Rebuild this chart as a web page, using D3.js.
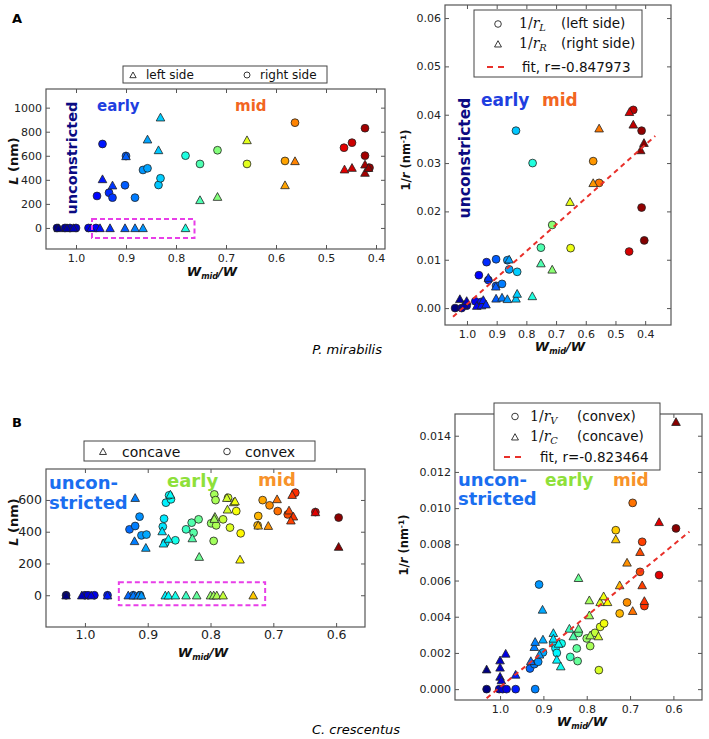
<!DOCTYPE html>
<html>
<head>
<meta charset="utf-8">
<script src="https://cdn.jsdelivr.net/npm/d3@7"></script>
<style>
body { margin: 0; background: #fff; }
text { font-family: "DejaVu Sans", sans-serif; }
</style>
</head>
<body>
<div id="plot"></div>
<script>
// ---------- data ----------
var xTicksA = [1.0, 0.9, 0.8, 0.7, 0.6, 0.5, 0.4];
var xTicksB = [1.0, 0.9, 0.8, 0.7, 0.6];
var lenTicksA = [0, 200, 400, 600, 800, 1000];
var lenTicksB = [0, 200, 400, 600];
var curvTicksA = [0, 0.01, 0.02, 0.03, 0.04, 0.05, 0.06];
var curvTicksB = [0, 0.002, 0.004, 0.006, 0.008, 0.010, 0.012, 0.014];

// P. mirabilis, constriction length L (nm) vs Wmid/W
var aLenLeft = [ // triangles, left side
  [1.035,0],[1.018,0],[1.005,0],[0.970,0],[0.952,0],[0.932,0],[0.902,0],[0.882,0],[0.866,0],[0.781,0],
  [0.947,407],[0.927,355],[0.900,598],[0.857,737],[0.835,648],[0.831,920],[0.752,233],[0.717,260],
  [0.658,731],[0.582,357],[0.562,557],[0.463,488],[0.448,501],[0.422,529],[0.422,460],[0.415,500]
];
var aLenRight = [ // circles, right side
  [1.038,0],[1.022,0],[1.012,0],[1.000,0],[0.975,0],[0.960,0],
  [0.947,698],[0.958,266],[0.934,293],[0.927,252],[0.902,355],[0.900,598],[0.882,252],[0.866,482],
  [0.857,496],[0.835,357],[0.831,413],[0.781,601],[0.752,532],[0.717,646],[0.658,532],[0.582,557],
  [0.562,875],[0.464,667],[0.448,709],[0.422,829],[0.422,601],[0.413,501]
];
// P. mirabilis, curvature 1/r (nm^-1) vs Wmid/W
var aCurvL = [ // circles
  [1.040,0.0],[1.018,0.0],[1.001,0.0005],[0.972,0.0014],[0.951,0.0013],[0.960,0.0068],[0.934,0.0095],
  [0.902,0.0101],[0.928,0.0058],[0.902,0.0046],[0.882,0.0050],[0.864,0.0099],[0.858,0.0080],[0.831,0.0075],
  [0.835,0.0367],[0.779,0.0300],[0.751,0.0125],[0.713,0.0172],[0.651,0.0124],[0.575,0.0304],[0.555,0.0259],
  [0.454,0.0117],[0.440,0.0410],[0.412,0.0367],[0.412,0.0208],[0.403,0.0140]
];
var aCurvR = [ // triangles
  [1.024,0.0019],[1.010,0.0007],[1.001,0.0015],[0.967,0.0005],[0.951,0.0006],[0.945,0.0017],[0.936,0.0008],
  [0.928,0.0063],[0.903,0.0045],[0.902,0.0020],[0.882,0.0022],[0.864,0.0019],[0.858,0.0101],[0.835,0.0020],
  [0.831,0.0030],[0.780,0.0025],[0.751,0.0093],[0.713,0.0080],[0.653,0.0220],[0.575,0.0259],[0.555,0.0372],
  [0.453,0.0406],[0.440,0.0380],[0.415,0.0327],[0.404,0.0342]
];
// C. crescentus, L (nm) vs Wmid/W
var bLenConcave = [ // triangles
  [1.030,0],[1.005,0],[0.990,0],[0.964,0],[0.931,0],[0.923,0],[0.915,0],[0.910,0],[0.872,0],[0.867,0],
  [0.856,0],[0.839,0],[0.822,0],[0.800,0],[0.795,0],[0.790,0],[0.780,0],[0.732,0],
  [0.920,614],[0.921,342],[0.903,300],[0.877,404],[0.875,327],[0.864,635],[0.867,357],[0.829,360],
  [0.818,243],[0.793,495],[0.794,482],[0.774,614],[0.763,587],[0.761,593],[0.773,541],[0.753,226],
  [0.724,440],[0.708,438],[0.694,606],[0.675,535],[0.668,497],[0.672,472],[0.670,633],[0.633,524],[0.596,306]
];
var bLenConvex = [ // circles
  [1.030,0],[1.000,0],[0.995,0],[0.985,0],[0.964,0],[0.923,0],[0.912,0],
  [0.929,415],[0.920,436],[0.913,495],[0.910,377],[0.902,382],[0.874,482],[0.876,432],[0.871,583],
  [0.863,604],[0.866,629],[0.872,331],[0.856,346],[0.839,415],[0.830,457],[0.819,478],[0.827,394],
  [0.794,635],[0.792,599],[0.799,453],[0.791,440],[0.780,478],[0.795,342],[0.772,614],[0.759,530],
  [0.769,426],[0.752,390],[0.725,440],[0.724,499],[0.717,599],[0.706,566],[0.693,530],[0.677,509],
  [0.665,646],[0.633,524],[0.596,489]
];
// C. crescentus, 1/r (nm^-1) vs Wmid/W
var bCurvV = [ // circles
  [1.031,0],[1.002,0],[0.994,0],[0.985,0],[0.964,0],[0.919,0],[0.931,0.00114],[0.921,0.00138],
  [0.912,0.00151],[0.901,0.00203],[0.910,0.00578],[0.877,0.00252],[0.872,0.00225],[0.869,0.0020],
  [0.858,0.00252],[0.838,0.00178],[0.821,0.00155],[0.823,0.00225],[0.819,0.0031],[0.800,0.0028],
  [0.792,0.00238],[0.781,0.00311],[0.772,0.00105],[0.769,0.00344],[0.760,0.00363],[0.724,0.00418],
  [0.707,0.00479],[0.733,0.00878],[0.694,0.01029],[0.677,0.00648],[0.672,0.00814],[0.667,0.00459],
  [0.633,0.0063],[0.594,0.00888]
];
var bCurvC = [ // triangles
  [1.031,0.0011],[1.000,0.0016],[1.000,0.0012],[1.000,0.0007],[0.997,0.0005],[0.987,0.00197],[0.964,0.00081],
  [0.929,0.00156],[0.921,0.00234],[0.919,0.00262],[0.909,0.00192],[0.901,0.00275],[0.902,0.0044],
  [0.877,0.00311],[0.877,0.0028],[0.865,0.00252],[0.869,0.00164],[0.860,0.00127],[0.840,0.00335],
  [0.831,0.00293],[0.819,0.00335],[0.819,0.00615],[0.794,0.00492],[0.794,0.00409],[0.792,0.00298],
  [0.773,0.00293],[0.769,0.00482],[0.761,0.00514],[0.752,0.00482],[0.733,0.00829],[0.724,0.00575],
  [0.707,0.0070],[0.694,0.00433],[0.677,0.00759],[0.672,0.00575],[0.667,0.00488],[0.633,0.00924],[0.594,0.01477]
];
// linear fits and the dashed "L = 0" boxes (data coordinates)
var aFit = [[1.047,-0.0018],[0.366,0.0356]];
var bFit = [[1.031,-0.0005],[0.563,0.0087]];
var aZeroBox = [[0.968,75],[0.763,-83]];
var bZeroBox = [[0.946,82],[0.713,-63]];

// ---------- helpers ----------
function jet(t) {
  var c = function(v){ return Math.round(255 * Math.max(0, Math.min(1, v))); };
  return "rgb(" + c(1.5 - Math.abs(4*t - 3)) + "," + c(1.5 - Math.abs(4*t - 2)) + "," + c(1.5 - Math.abs(4*t - 1)) + ")";
}
function triPath(s) {
  return "M0," + (-s) + "L" + (-s*1.05) + "," + (s*0.9) + "L" + (s*1.05) + "," + (s*0.9) + "Z";
}

var svg = d3.select("#plot")
  .append("svg")
  .attr("width", 709)
  .attr("height", 739);

// Draws one scatter panel and returns its scales
function drawPanel(p) {
  var x = d3.scaleLinear().domain(p.xDomain).range([p.left, p.left + p.width]);
  var y = d3.scaleLinear().domain(p.yDomain).range([p.top + p.height, p.top]);
  var col = d3.scaleLinear().domain(p.cDomain).range([0, 1]).clamp(true);

  var g = svg.append("g");
  svg.append("clipPath").attr("id", "clip-" + p.key)
    .append("rect")
    .attr("x", p.left).attr("y", p.top).attr("width", p.width).attr("height", p.height);

  // axes, ticks pointing inward on all four sides
  g.append("g").attr("transform", "translate(0," + (p.top + p.height) + ")")
    .call(d3.axisBottom(x).tickValues(p.xTicks).tickFormat(d3.format(".1f")).tickSize(-4).tickSizeOuter(0).tickPadding(p.xPad));
  g.append("g").attr("transform", "translate(0," + p.top + ")")
    .call(d3.axisTop(x).tickValues(p.xTicks).tickFormat("").tickSize(-4).tickSizeOuter(0));
  g.append("g").attr("transform", "translate(" + p.left + ",0)")
    .call(d3.axisLeft(y).tickValues(p.yTicks).tickFormat(d3.format(p.yFmt)).tickSize(-4).tickSizeOuter(0).tickPadding(4));
  g.append("g").attr("transform", "translate(" + (p.left + p.width) + ",0)")
    .call(d3.axisRight(y).tickValues(p.yTicks).tickFormat("").tickSize(-4).tickSizeOuter(0));
  g.selectAll(".domain").remove();
  g.selectAll(".tick line").attr("stroke", "#555");
  g.selectAll(".tick text").attr("fill", "#222")
    .style("font-family", "DejaVu Sans").style("font-size", p.tickFont + "px");

  g.append("rect")
    .attr("x", p.left).attr("y", p.top).attr("width", p.width).attr("height", p.height)
    .attr("fill", "none").attr("stroke", "#555").attr("stroke-width", 1.2);

  var marks = g.append("g").attr("clip-path", "url(#clip-" + p.key + ")");
  p.series.forEach(function(s) {
    if (s.shape === "circle") {
      marks.append("g").selectAll("circle")
        .data(s.data).enter()
        .append("circle")
        .attr("cx", function(d){ return x(d[0]); })
        .attr("cy", function(d){ return y(d[1]); })
        .attr("r", 3.9)
        .attr("fill", function(d){ return jet(col(d[0])); })
        .attr("stroke", "#222").attr("stroke-width", 0.8);
    } else {
      marks.append("g").selectAll("path")
        .data(s.data).enter()
        .append("path")
        .attr("transform", function(d){ return "translate(" + x(d[0]) + "," + y(d[1]) + ")"; })
        .attr("d", triPath(4.1))
        .attr("fill", function(d){ return jet(col(d[0])); })
        .attr("stroke", "#222").attr("stroke-width", 0.8);
    }
  });
  if (p.fit) {
    marks.append("line")
      .attr("x1", x(p.fit[0][0])).attr("y1", y(p.fit[0][1]))
      .attr("x2", x(p.fit[1][0])).attr("y2", y(p.fit[1][1]))
      .attr("stroke", "#e8302a").attr("stroke-width", 2).attr("stroke-dasharray", "5,4");
  }
  if (p.box) {
    g.append("rect")
      .attr("x", x(p.box[0][0])).attr("y", y(p.box[0][1]))
      .attr("width", x(p.box[1][0]) - x(p.box[0][0]))
      .attr("height", y(p.box[1][1]) - y(p.box[0][1]))
      .attr("fill", "none").attr("stroke", "#e83ee8").attr("stroke-width", 2)
      .attr("stroke-dasharray", "5,3");
  }
  return {x: x, y: y};
}

// x-axis label W_mid/W
function xLabel(cx, cy, size) {
  var t = svg.append("text").attr("x", cx).attr("y", cy).attr("text-anchor", "middle")
    .style("font-weight", "bold").style("font-style", "italic").style("font-size", size + "px").attr("fill", "#111");
  t.append("tspan").text("W");
  t.append("tspan").attr("dy", 3).style("font-size", (size * 0.62) + "px").text("mid");
  t.append("tspan").attr("dy", -3).text("/W");
}
function yLabelLen(cx, cy, size) {
  var t = svg.append("text").attr("transform", "translate(" + cx + "," + cy + ") rotate(-90)")
    .attr("text-anchor", "middle").style("font-weight", "bold").style("font-size", size + "px").attr("fill", "#111");
  t.append("tspan").style("font-style", "italic").text("L");
  t.append("tspan").text(" (nm)");
}
function yLabelCurv(cx, cy, size) {
  var t = svg.append("text").attr("transform", "translate(" + cx + "," + cy + ") rotate(-90)")
    .attr("text-anchor", "middle").style("font-weight", "bold").style("font-size", size + "px").attr("fill", "#111");
  t.append("tspan").text("1/");
  t.append("tspan").style("font-style", "italic").text("r");
  t.append("tspan").text(" (nm");
  t.append("tspan").attr("dy", -4).style("font-size", (size * 0.65) + "px").text("-1");
  t.append("tspan").attr("dy", 4).text(")");
}
function word(txt, x, y, size, color, rotate) {
  var t = svg.append("text").style("font-weight", "bold").style("font-size", size + "px")
    .attr("fill", color).text(txt);
  if (rotate) {
    t.attr("transform", "translate(" + x + "," + y + ") rotate(-90)").attr("text-anchor", "middle");
  } else {
    t.attr("x", x).attr("y", y);
  }
}
// small legend marker
function legendMark(shape, x, y, s) {
  if (shape === "circle") {
    svg.append("circle").attr("cx", x).attr("cy", y).attr("r", s)
      .attr("fill", "#fff").attr("stroke", "#222").attr("stroke-width", 0.9);
  } else {
    svg.append("path").attr("transform", "translate(" + x + "," + y + ")").attr("d", triPath(s))
      .attr("fill", "#fff").attr("stroke", "#222").attr("stroke-width", 0.9);
  }
}
function legendBox(x0, y0, x1, y1) {
  svg.append("rect").attr("x", x0).attr("y", y0).attr("width", x1 - x0).attr("height", y1 - y0)
    .attr("fill", "#fff").attr("stroke", "#444").attr("stroke-width", 1);
}
function plainText(txt, x, y, size) {
  svg.append("text").attr("x", x).attr("y", y).style("font-size", size + "px").attr("fill", "#111").text(txt);
}
function mathLabel(sub, x, y, size) {
  var t = svg.append("text").attr("x", x).attr("y", y)
    .style("font-family", "'DejaVu Serif', serif").style("font-size", size + "px").attr("fill", "#111");
  t.append("tspan").text("1/");
  t.append("tspan").style("font-style", "italic").text("r");
  t.append("tspan").attr("dy", 3).style("font-style", "italic").style("font-size", (size * 0.7) + "px").text(sub);
}
function fitLegend(x0, x1, y, txt, tx, size) {
  svg.append("line").attr("x1", x0).attr("x2", x1).attr("y1", y).attr("y2", y)
    .attr("stroke", "#e8302a").attr("stroke-width", 2).attr("stroke-dasharray", "6,5");
  plainText(txt, tx, y + size * 0.36, size);
}

// ---------- panel A ----------
drawPanel({key: "aLen", left: 46, top: 89, width: 339, height: 160,
  xDomain: [1.06, 0.382], yDomain: [-175, 1155], xTicks: xTicksA, yTicks: lenTicksA,
  yFmt: "d", tickFont: 11, xPad: 5, cDomain: [1.04, 0.40],
  series: [{data: aLenRight, shape: "circle"}, {data: aLenLeft, shape: "tri"}],
  box: aZeroBox});
drawPanel({key: "aCurv", left: 445, top: 5, width: 226, height: 320,
  xDomain: [1.074, 0.313], yDomain: [-0.0035, 0.0627], xTicks: xTicksA, yTicks: curvTicksA,
  yFmt: ".2f", tickFont: 11, xPad: 5, cDomain: [1.04, 0.40],
  series: [{data: aCurvL, shape: "circle"}, {data: aCurvR, shape: "tri"}],
  fit: aFit});

svg.append("text").attr("x", 12).attr("y", 23).style("font-weight", "bold").style("font-size", "13px").text("A");
xLabel(212, 276, 13);
xLabel(560, 351, 13);
yLabelLen(18, 161, 13);
yLabelCurv(410, 160, 11.5);
word("unconstricted", 77, 158, 14.5, "#0b0b82", true);
word("early", 97, 111, 15, "#1f3fe0");
word("mid", 235, 111, 15, "#f26522");
word("unconstricted", 470, 158, 15.5, "#0b0b82", true);
word("early", 481, 106, 17, "#1f3fe0");
word("mid", 542, 106, 17, "#f26522");

legendBox(123, 66, 327, 83);
legendMark("tri", 133, 75, 3);
plainText("left side", 146, 79, 12);
legendMark("circle", 247, 75, 3);
plainText("right side", 260, 79, 12);

legendBox(474, 10, 642, 77);
legendMark("circle", 498, 24, 3.3);
mathLabel("L", 519, 28, 14);
plainText("(left side)", 561, 28, 13.5);
legendMark("tri", 498, 44, 3.3);
mathLabel("R", 519, 48, 14);
plainText("(right side)", 561, 48, 13.5);
fitLegend(487, 509, 67, "fit, r=-0.847973", 522, 13.5);

svg.append("text").attr("x", 382).attr("y", 354).attr("text-anchor", "end")
  .style("font-style", "italic").style("font-size", "13px").text("P. mirabilis");

// ---------- panel B ----------
drawPanel({key: "bLen", left: 46, top: 469, width: 319, height: 158,
  xDomain: [1.062, 0.554], yDomain: [-200, 795], xTicks: xTicksB, yTicks: lenTicksB,
  yFmt: "d", tickFont: 12.5, xPad: 3, cDomain: [1.03, 0.59],
  series: [{data: bLenConvex, shape: "circle"}, {data: bLenConcave, shape: "tri"}],
  box: bZeroBox});
drawPanel({key: "bCurv", left: 455, top: 414, width: 247, height: 286,
  xDomain: [1.104, 0.534], yDomain: [-0.0006, 0.0152], xTicks: xTicksB, yTicks: curvTicksB,
  yFmt: ".3f", tickFont: 11, xPad: 5, cDomain: [1.03, 0.59],
  series: [{data: bCurvV, shape: "circle"}, {data: bCurvC, shape: "tri"}],
  fit: bFit});

svg.append("text").attr("x", 12).attr("y", 427).style("font-weight", "bold").style("font-size", "13px").text("B");
xLabel(203, 657, 13);
xLabel(582, 726, 13);
yLabelLen(18, 522, 13);
yLabelCurv(408, 545, 11.5);
word("uncon-", 49, 489, 18, "#1a6ef0");
word("stricted", 49, 509, 18, "#1a6ef0");
word("early", 167, 487, 18, "#8ee03a");
word("mid", 258, 486, 18, "#f7922a");
word("uncon-", 458, 486, 18, "#1a6ef0");
word("stricted", 458, 505, 18, "#1a6ef0");
word("early", 545, 486, 17, "#8ee03a");
word("mid", 613, 486, 17, "#f7922a");

legendBox(84, 441, 315, 461);
legendMark("tri", 103, 451.5, 3.3);
plainText("concave", 122, 456.5, 14);
legendMark("circle", 227, 451.5, 3.3);
plainText("convex", 245, 456.5, 14);

legendBox(494, 403, 660, 470);
legendMark("circle", 515, 416.5, 3.3);
mathLabel("V", 530, 421, 14);
plainText("(convex)", 577, 421, 13.5);
legendMark("tri", 515, 437, 3.3);
mathLabel("C", 530, 441, 14);
plainText("(concave)", 577, 441, 13.5);
fitLegend(504, 526, 457, "fit, r=-0.823464", 540, 13.5);

svg.append("text").attr("x", 400).attr("y", 734).attr("text-anchor", "end")
  .style("font-style", "italic").style("font-size", "13px").text("C. crescentus");
</script>
</body>
</html>
